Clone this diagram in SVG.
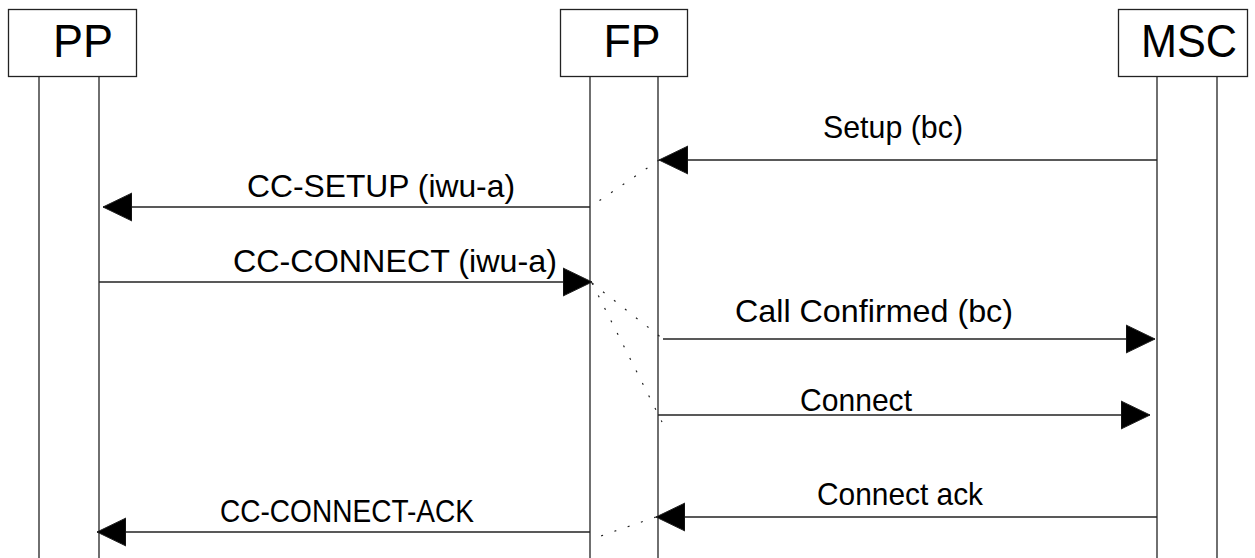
<svg xmlns="http://www.w3.org/2000/svg" width="1255" height="558" viewBox="0 0 1255 558">
  <style>
    .box { fill: #ffffff; stroke: #222222; stroke-width: 1.3; }
    .life { stroke: #222222; stroke-width: 1.3; fill: none; }
    .name { font-family: "Liberation Sans", Arial, sans-serif; font-size: 47px; fill: #000000; text-anchor: middle; }
    .msg { stroke: #222222; stroke-width: 1.3; fill: none; marker-end: url(#head); }
    .dot { stroke: #222222; stroke-width: 1.2; fill: none; stroke-dasharray: 2 12; }
    .lbl { font-family: "Liberation Sans", Arial, sans-serif; font-size: 31.5px; fill: #000000; text-anchor: middle; }
  </style>
  <defs>
    <marker id="head" markerUnits="userSpaceOnUse" markerWidth="30" markerHeight="30" viewBox="0 0 30 30" refX="29" refY="15" orient="auto">
      <path d="M0,1 L29,15 L0,29 z" fill="#000000" stroke="#222222" stroke-width="1"/>
    </marker>
  </defs>
  <rect width="1255" height="558" fill="#ffffff"/>

  <g id="node-pp">
    <rect class="box" x="8.5" y="9.5" width="128" height="67"/>
    <text class="name" x="83" y="57" textLength="60" lengthAdjust="spacingAndGlyphs">PP</text>
    <line class="life" x1="39" y1="77" x2="39" y2="558"/>
    <line class="life" x1="99" y1="77" x2="99" y2="558"/>
  </g>

  <g id="node-fp">
    <rect class="box" x="560.5" y="9.5" width="127" height="67"/>
    <text class="name" x="632" y="57" textLength="57" lengthAdjust="spacingAndGlyphs">FP</text>
    <line class="life" x1="590" y1="77" x2="590" y2="558"/>
    <line class="life" x1="658" y1="77" x2="658" y2="558"/>
  </g>

  <g id="node-msc">
    <rect class="box" x="1118.5" y="9.5" width="129" height="67"/>
    <text class="name" x="1189" y="57" textLength="96" lengthAdjust="spacingAndGlyphs">MSC</text>
    <line class="life" x1="1157" y1="77" x2="1157" y2="558"/>
    <line class="life" x1="1217" y1="77" x2="1217" y2="558"/>
  </g>

  <g id="connectors">
    <!-- messages -->
    <line class="msg" x1="1157" y1="160" x2="659" y2="160"/>
    <line class="msg" x1="590" y1="207" x2="103" y2="207"/>
    <line class="msg" x1="99" y1="282" x2="592" y2="282"/>
    <line class="msg" x1="663" y1="339" x2="1155" y2="339"/>
    <line class="msg" x1="658" y1="415" x2="1150" y2="415"/>
    <line class="msg" x1="1157" y1="517" x2="656" y2="517"/>
    <line class="msg" x1="590" y1="532" x2="97" y2="532"/>
    <!-- relay links inside FP -->
    <line class="dot" x1="659" y1="160" x2="590" y2="207"/>
    <line class="dot" x1="592" y1="283" x2="663" y2="339"/>
    <line class="dot" x1="592" y1="283" x2="662" y2="422"/>
    <line class="dot" x1="656" y1="517" x2="592" y2="539"/>
  </g>

  <g id="labels">
    <text class="lbl" x="893" y="138" textLength="140" lengthAdjust="spacingAndGlyphs">Setup (bc)</text>
    <text class="lbl" x="381" y="197" textLength="268" lengthAdjust="spacingAndGlyphs">CC-SETUP (iwu-a)</text>
    <text class="lbl" x="395" y="272" textLength="324" lengthAdjust="spacingAndGlyphs">CC-CONNECT (iwu-a)</text>
    <text class="lbl" x="874" y="322" textLength="278" lengthAdjust="spacingAndGlyphs">Call Confirmed (bc)</text>
    <text class="lbl" x="856" y="411" textLength="112" lengthAdjust="spacingAndGlyphs">Connect</text>
    <text class="lbl" x="900" y="505" textLength="166" lengthAdjust="spacingAndGlyphs">Connect ack</text>
    <text class="lbl" x="347" y="522" textLength="254" lengthAdjust="spacingAndGlyphs">CC-CONNECT-ACK</text>
  </g>
</svg>
